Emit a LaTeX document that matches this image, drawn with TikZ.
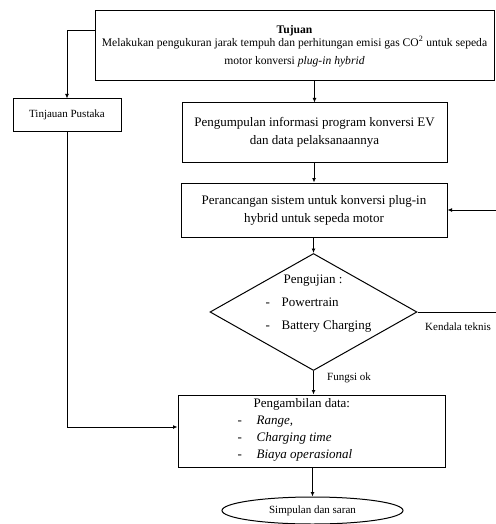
\documentclass[tikz,border=0pt]{standalone}
\usepackage{fontspec}
\setmainfont{Liberation Serif}
\usetikzlibrary{shapes.geometric,arrows.meta}
\newcommand{\dashitem}[2]{\makebox[#1][l]{-}#2}
\begin{document}
\begin{tikzpicture}[x=1pt,y=-1pt,
  box/.style={draw,line width=1pt,rectangle,inner sep=0pt,align=center},
  conn/.style={draw,line width=0.9pt,-{Latex[length=4.5pt,width=4pt]}},
  plain/.style={draw,line width=0.9pt},
  big/.style={font=\fontsize{13}{18}\selectfont},
  small/.style={font=\fontsize{11}{13}\selectfont}]
\useasboundingbox (0,0) rectangle (495,524);
% nodes
\node[box,minimum width=399,minimum height=70,font=\fontsize{11.6}{15.5}\selectfont] (top) at (294.5,46)
  {\textbf{Tujuan}\\[-2.5pt] Melakukan pengukuran jarak tempuh dan perhitungan emisi gas CO\textsuperscript{2} untuk sepeda\\[2.5pt] motor konversi \textit{plug-in hybrid}};
\node[box,small,minimum width=108,minimum height=32] (tin) at (67,115) {Tinjauan Pustaka};
\node[box,big,minimum width=265,minimum height=59] (kum) at (314.5,132.5)
  {Pengumpulan informasi program konversi EV\\ dan data pelaksanaannya};
\node[box,big,minimum width=266,minimum height=54] (per) at (314,210)
  {Perancangan sistem untuk konversi plug-in\\ hybrid untuk sepeda motor};
\node[draw,line width=1pt,diamond,minimum width=207,minimum height=117,inner sep=0pt] (dia) at (313.5,312) {};
\node[align=left,inner sep=0pt,font=\fontsize{13}{23}\selectfont] (diatxt) at (318.5,304)
  {\hspace*{18pt}Pengujian :\\ \dashitem{16pt}{Powertrain}\\ \dashitem{16pt}{Battery Charging}};
\node[box,minimum width=267,minimum height=72] (amb) at (311.5,431) {};
\node[align=left,inner sep=0pt,font=\fontsize{13}{17}\selectfont] (ambtxt) at (295,430)
  {\hspace*{16pt}Pengambilan data:\\ \dashitem{19pt}{\textit{Range,}}\\ \dashitem{19pt}{\textit{Charging time}}\\ \dashitem{19pt}{\textit{Biaya operasional}}};
\node[draw,line width=1pt,ellipse,minimum width=181,minimum height=27,inner sep=0pt,small] (ell) at (312.5,510.5) {Simpulan dan saran};
\coordinate (r1) at (498,312);
% labels
\node[small,anchor=west,inner sep=0pt] (ken) at (425,327) {Kendala teknis};
\node[small,anchor=west,inner sep=0pt] (fun) at (327,378) {Fungsi ok};
% connectors
\draw[conn] ([yshift=-20pt]top.north west) -| (tin.north);
\draw[conn] (tin.south) |- ([yshift=4pt]amb.west);
\draw[conn] (top.south -| kum.north) -- (kum.north);
\draw[conn] (kum.south -| per.north) -- (per.north);
\draw[conn] (per.south -| dia.north) -- (dia.north);
\draw[plain] (dia.east) -- (r1);
\draw[conn] (r1) |- (per.east);
\draw[conn] (dia.south) -- (dia.south |- amb.north);
\draw[conn] (amb.south -| ell.north) -- (ell.north);
\end{tikzpicture}
\end{document}
